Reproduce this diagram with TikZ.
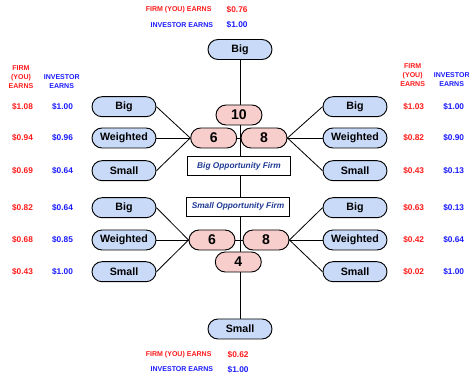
\documentclass[tikz,border=0pt]{standalone}
\usepackage{fontspec}
\setmainfont{Liberation Sans}
\usetikzlibrary{backgrounds}

\definecolor{leafblue}{HTML}{C9DAF8}
\definecolor{numpink}{HTML}{F8CECC}
\definecolor{firmred}{HTML}{FF1A1A}
\definecolor{invblue}{HTML}{1A1AFF}
\definecolor{firmnavy}{HTML}{1F3A93}

\tikzset{
  leaf/.style={draw, line width=0.8pt, fill=leafblue, rounded corners=0.3cm,
    minimum width=1.92cm, minimum height=0.6cm, inner sep=0pt,
    font=\fontsize{9.1}{10}\selectfont\bfseries},
  num/.style={draw, line width=0.8pt, fill=numpink, rounded corners=0.3cm,
    minimum width=1.38cm, minimum height=0.6cm, inner sep=0pt,
    font=\fontsize{12}{13}\selectfont\bfseries},
  firmbox/.style={draw, line width=0.8pt, fill=white, minimum width=3.08cm,
    minimum height=0.57cm, inner sep=0pt, text=firmnavy,
    font=\fontsize{7.1}{8}\selectfont\bfseries\itshape},
  firmval/.style={text=firmred, font=\fontsize{7.1}{8}\selectfont\bfseries},
  invval/.style={text=invblue, font=\fontsize{7.1}{8}\selectfont\bfseries},
  head/.style={align=center, inner sep=0pt, font=\fontsize{6}{7.7}\selectfont\bfseries},
  link/.style={line width=0.7pt}
}

\begin{document}
\begin{tikzpicture}[x=0.03cm, y=-0.03cm]
\useasboundingbox (0,0) rectangle (469,377);

% centre column
\node[leaf] (top) at (240,49.5) {Big};
\node[num] (ten) at (239,115) {10};
\node[num] (bsix) at (213.7,138) {6};
\node[num] (beight) at (264,138) {8};
\node[firmbox] (bigfirm) at (239,166) {Big Opportunity Firm};
\node[firmbox] (smallfirm) at (238,206.7) {Small Opportunity Firm};
\node[num] (ssix) at (212,240) {6};
\node[num] (seight) at (266,240) {8};
\node[num] (four) at (238.3,262) {4};
\node[leaf] (bottom) at (240,329) {Small};

% outcomes on both sides
\foreach \n/\lbl/\y in {bb/Big/106.7, bw/Weighted/138, bs/Small/170.7,
                        sb/Big/207.7, sw/Weighted/240, ss/Small/271.7} {
  \node[leaf] (l\n) at (124,\y) {\lbl};
  \node[leaf] (r\n) at (355,\y) {\lbl};
}

\begin{pgfonlayer}{background}
  \draw[link] (top) -- (bottom);
  \draw[link] (bsix) -- (beight);
  \draw[link] (ssix) -- (seight);
  \foreach \n in {bb,bw,bs} {
    \draw[link] (l\n.east) -- (bsix.west);
    \draw[link] (r\n.west) -- (beight.east);
  }
  \foreach \n in {sb,sw,ss} {
    \draw[link] (l\n.east) -- (ssix.west);
    \draw[link] (r\n.west) -- (seight.east);
  }
\end{pgfonlayer}

% earnings, top and bottom
\node[head, text=firmred, anchor=east] (tfh) at (211.7,10) {FIRM (YOU) EARNS};
\node[head, text=invblue, anchor=east] (tih) at (213.3,25) {INVESTOR EARNS};
\node[firmval, anchor=west, inner sep=0pt] (tfv) at (226.5,10) {\$0.76};
\node[invval, anchor=west, inner sep=0pt] (tiv) at (226.5,25) {\$1.00};
\node[head, text=firmred, anchor=east] (bfh) at (211.7,354.3) {FIRM (YOU) EARNS};
\node[head, text=invblue, anchor=east] (bih) at (213.3,369.3) {INVESTOR EARNS};
\node[firmval, anchor=west, inner sep=0pt] (bfv) at (227.5,354.3) {\$0.62};
\node[invval, anchor=west, inner sep=0pt] (biv) at (227.5,369.3) {\$1.00};

% column heads
\node[head, text=firmred] (lfh) at (21,77) {FIRM\\(YOU)\\EARNS};
\node[head, text=invblue] (lih) at (61.7,81.5) {INVESTOR\\EARNS};
\node[head, text=firmred] (rfh) at (412.7,75.5) {FIRM\\(YOU)\\EARNS};
\node[head, text=invblue] (rih) at (451.7,80) {INVESTOR\\EARNS};

% earnings per outcome
\foreach \y/\a/\b/\c/\d [count=\k] in {106.7/1.08/1.00/1.03/1.00, 138/0.94/0.96/0.82/0.90,
    170.7/0.69/0.64/0.43/0.13, 207.7/0.82/0.64/0.63/0.13,
    240/0.68/0.85/0.42/0.64, 271.7/0.43/1.00/0.02/1.00} {
  \node[firmval] (lf\k) at (22.5,\y) {\$\a};
  \node[invval] (li\k) at (62.5,\y) {\$\b};
  \node[firmval] (rf\k) at (413.7,\y) {\$\c};
  \node[invval] (ri\k) at (453.7,\y) {\$\d};
}
\end{tikzpicture}
\end{document}
